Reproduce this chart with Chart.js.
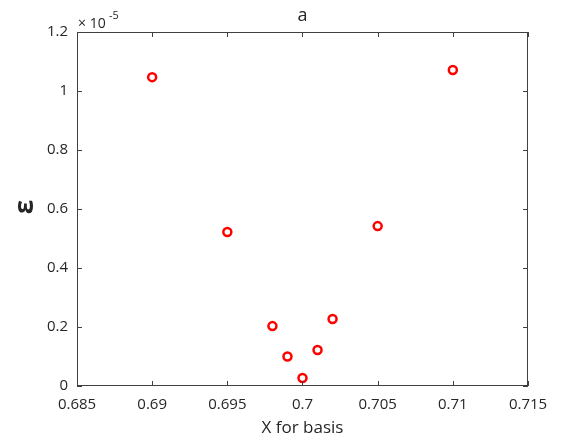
<!DOCTYPE html>
<html>
<head>
<meta charset="utf-8">
<script src="https://cdn.jsdelivr.net/npm/chart.js@4"></script>
<style>
  html, body { margin: 0; padding: 0; background: #fff; }
  #wrap { width: 584px; height: 438px; }
</style>
</head>
<body>
<div id="wrap"><canvas id="scatterChart" width="584" height="438"></canvas></div>
<script>
// basis X values and error (in units of 1e-5)
const xValues = [0.69, 0.695, 0.698, 0.699, 0.7, 0.701, 0.702, 0.705, 0.71];
const epsValues = [1.047, 0.522, 0.203, 0.100, 0.027, 0.122, 0.227, 0.542, 1.071];
const xTicks = [0.685, 0.69, 0.695, 0.7, 0.705, 0.71, 0.715];
const yTicks = [0, 0.2, 0.4, 0.6, 0.8, 1, 1.2];

const FONT = '"Open Sans", "Liberation Sans", sans-serif';
const AXIS = '#404040';
const TXT = '#262626';

// frame, inward ticks and the MATLAB-like labels
const framePlugin = {
    id: 'frame',
    afterDraw(chart) {
        const { ctx, chartArea: a, scales } = chart;
        ctx.save();
        ctx.strokeStyle = AXIS;
        ctx.lineWidth = 1;
        ctx.strokeRect(a.left + 0.5, a.top + 0.5, a.right - a.left - 1, a.bottom - a.top - 1);
        const tl = 5;
        ctx.beginPath();
        xTicks.forEach(v => {
            const px = Math.round(scales.x.getPixelForValue(v)) + 0.5;
            ctx.moveTo(px, a.bottom); ctx.lineTo(px, a.bottom - tl);
            ctx.moveTo(px, a.top); ctx.lineTo(px, a.top + tl);
        });
        yTicks.forEach(v => {
            const py = Math.round(scales.y.getPixelForValue(v)) + 0.5;
            ctx.moveTo(a.left, py); ctx.lineTo(a.left + tl, py);
            ctx.moveTo(a.right, py); ctx.lineTo(a.right - tl, py);
        });
        ctx.stroke();

        ctx.fillStyle = TXT;
        // exponent
        ctx.font = '14px ' + FONT;
        ctx.textAlign = 'left';
        ctx.textBaseline = 'alphabetic';
        ctx.fillText('\u00d7 10', a.left + 1, a.top - 4);
        ctx.font = '11px ' + FONT;
        ctx.fillText('-5', a.left + 32, a.top - 13);
        // title
        ctx.font = '18px ' + FONT;
        ctx.textAlign = 'center';
        ctx.fillText('a', (a.left + a.right) / 2, a.top - 11);
        // y label, rotated like MATLAB's ylabel
        ctx.translate(26, 207);
        ctx.rotate(-Math.PI / 2);
        ctx.font = 'bold 26px ' + FONT;
        ctx.textBaseline = 'middle';
        ctx.fillText('\u03b5', 0, 0);
        ctx.restore();
    }
};

new Chart(document.getElementById('scatterChart'), {
    type: 'scatter',
    data: {
        datasets: [{
            data: xValues.map((x, i) => ({ x: x, y: epsValues[i] })),
            pointRadius: 4,
            pointHoverRadius: 4,
            pointBorderWidth: 2.5,
            pointBorderColor: '#ff0000',
            pointBackgroundColor: '#ffffff',
        }],
    },
    options: {
        responsive: false,
        animation: false,
        layout: { padding: { top: 32, right: 56, left: 0, bottom: 0 } },
        plugins: { legend: { display: false }, tooltip: { enabled: false } },
        scales: {
            x: {
                type: 'linear',
                min: 0.685,
                max: 0.715,
                afterBuildTicks: s => { s.ticks = xTicks.map(v => ({ value: v })); },
                afterFit: s => { s.height = 52; },
                grid: { display: false },
                border: { display: false },
                ticks: {
                    padding: 2,
                    color: TXT,
                    font: { family: FONT, size: 15 },
                    maxRotation: 0,
                    callback: v => String(Number(v.toFixed(3))),
                },
                title: {
                    display: true,
                    text: 'X for basis',
                    color: TXT,
                    font: { family: FONT, size: 17 },
                    padding: { top: 0, bottom: 0 },
                },
            },
            y: {
                min: 0,
                max: 1.2,
                afterBuildTicks: s => { s.ticks = yTicks.map(v => ({ value: v })); },
                afterFit: s => { s.width = 77; },
                grid: { display: false },
                border: { display: false },
                ticks: {
                    padding: 1,
                    color: TXT,
                    font: { family: FONT, size: 15 },
                    callback: v => String(Number(v.toFixed(1))),
                },
            },
        },
    },
    plugins: [framePlugin],
});
</script>
</body>
</html>
